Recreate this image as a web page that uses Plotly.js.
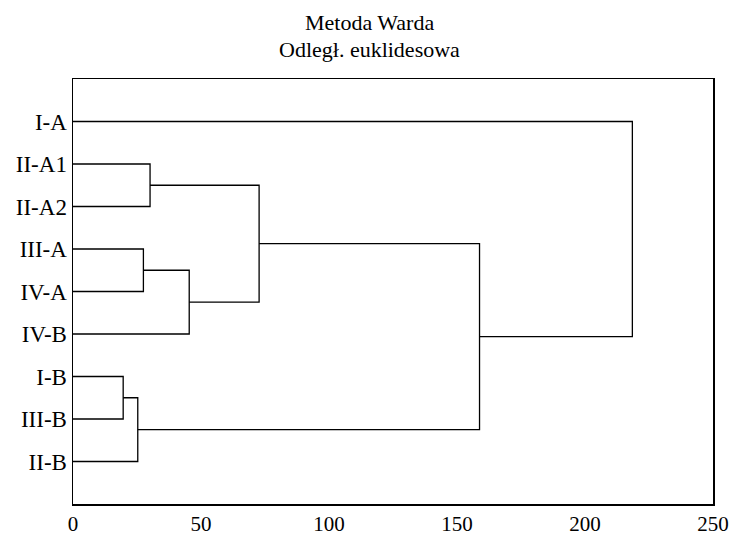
<!DOCTYPE html>
<html>
<head>
<meta charset="utf-8">
<script src="https://cdn.plot.ly/plotly-3.0.1.min.js"></script>
<style>html,body{margin:0;padding:0;background:#fff;}#chart{width:732px;height:535px;}</style>
</head>
<body>
<div id="chart"></div>
<script>
// Leaves in display order (top to bottom)
const leaves = ["I-A", "II-A1", "II-A2", "III-A", "IV-A", "IV-B", "I-B", "III-B", "II-B"];
// Merge steps: [left child, right child, linkage distance]; children are leaf names or "m<index>"
const mergeLeft  = ["II-A1", "III-A", "m1",   "m0",  "I-B",  "m4",  "m3",  "I-A"];
const mergeRight = ["II-A2", "IV-A",  "IV-B", "m2",  "III-B","II-B", "m5",  "m6"];
const mergeDist  = [30.1,    27.5,    45.4,   72.7,  19.6,   25.3,  158.8, 218.5];
const xTicks = [0, 50, 100, 150, 200, 250];
const titleLines = ["Metoda Warda", "Odległ. euklidesowa"];

const pos = {};
leaves.forEach((n, i) => { pos[n] = { y: i + 1, x: 0 }; });
const traces = [];
for (let i = 0; i < mergeDist.length; i++) {
  const a = pos[mergeLeft[i]], b = pos[mergeRight[i]], d = mergeDist[i];
  traces.push({
    type: "scatter", mode: "lines",
    x: [a.x, d, d, b.x], y: [a.y, a.y, b.y, b.y],
    line: { color: "#000", width: 1.3 }, hoverinfo: "skip", showlegend: false
  });
  pos["m" + i] = { y: (a.y + b.y) / 2, x: d };
}

const fam = "Liberation Serif, Times New Roman, serif";
Plotly.newPlot("chart", traces, {
  width: 732, height: 535,
  margin: { l: 73, r: 19, t: 79, b: 31 },
  paper_bgcolor: "#fff", plot_bgcolor: "#fff",
  annotations: [
    { text: titleLines[0], xref: "paper", yref: "paper", x: 0.4625, y: 1.134,
      xanchor: "center", yanchor: "middle", showarrow: false,
      font: { family: fam, size: 22, color: "#000" } },
    { text: titleLines[1], xref: "paper", yref: "paper", x: 0.4625, y: 1.069,
      xanchor: "center", yanchor: "middle", showarrow: false,
      font: { family: fam, size: 22, color: "#000" } }
  ],
  xaxis: {
    range: [0, 250], tickvals: xTicks, ticktext: xTicks.map(String),
    showgrid: false, zeroline: false, showline: true, mirror: true,
    linecolor: "#000", linewidth: 1.5, ticks: "", ticklen: 0,
    tickfont: { family: fam, size: 21, color: "#000" }, fixedrange: true
  },
  yaxis: {
    range: [10, 0], tickvals: leaves.map((_, i) => i + 1), ticktext: leaves,
    showgrid: false, zeroline: false, showline: true, mirror: true,
    linecolor: "#000", linewidth: 1.5, ticks: "", ticklen: 0,
    tickfont: { family: fam, size: 23, color: "#000" }, fixedrange: true
  }
}, { displayModeBar: false, staticPlot: true });
</script>
</body>
</html>
